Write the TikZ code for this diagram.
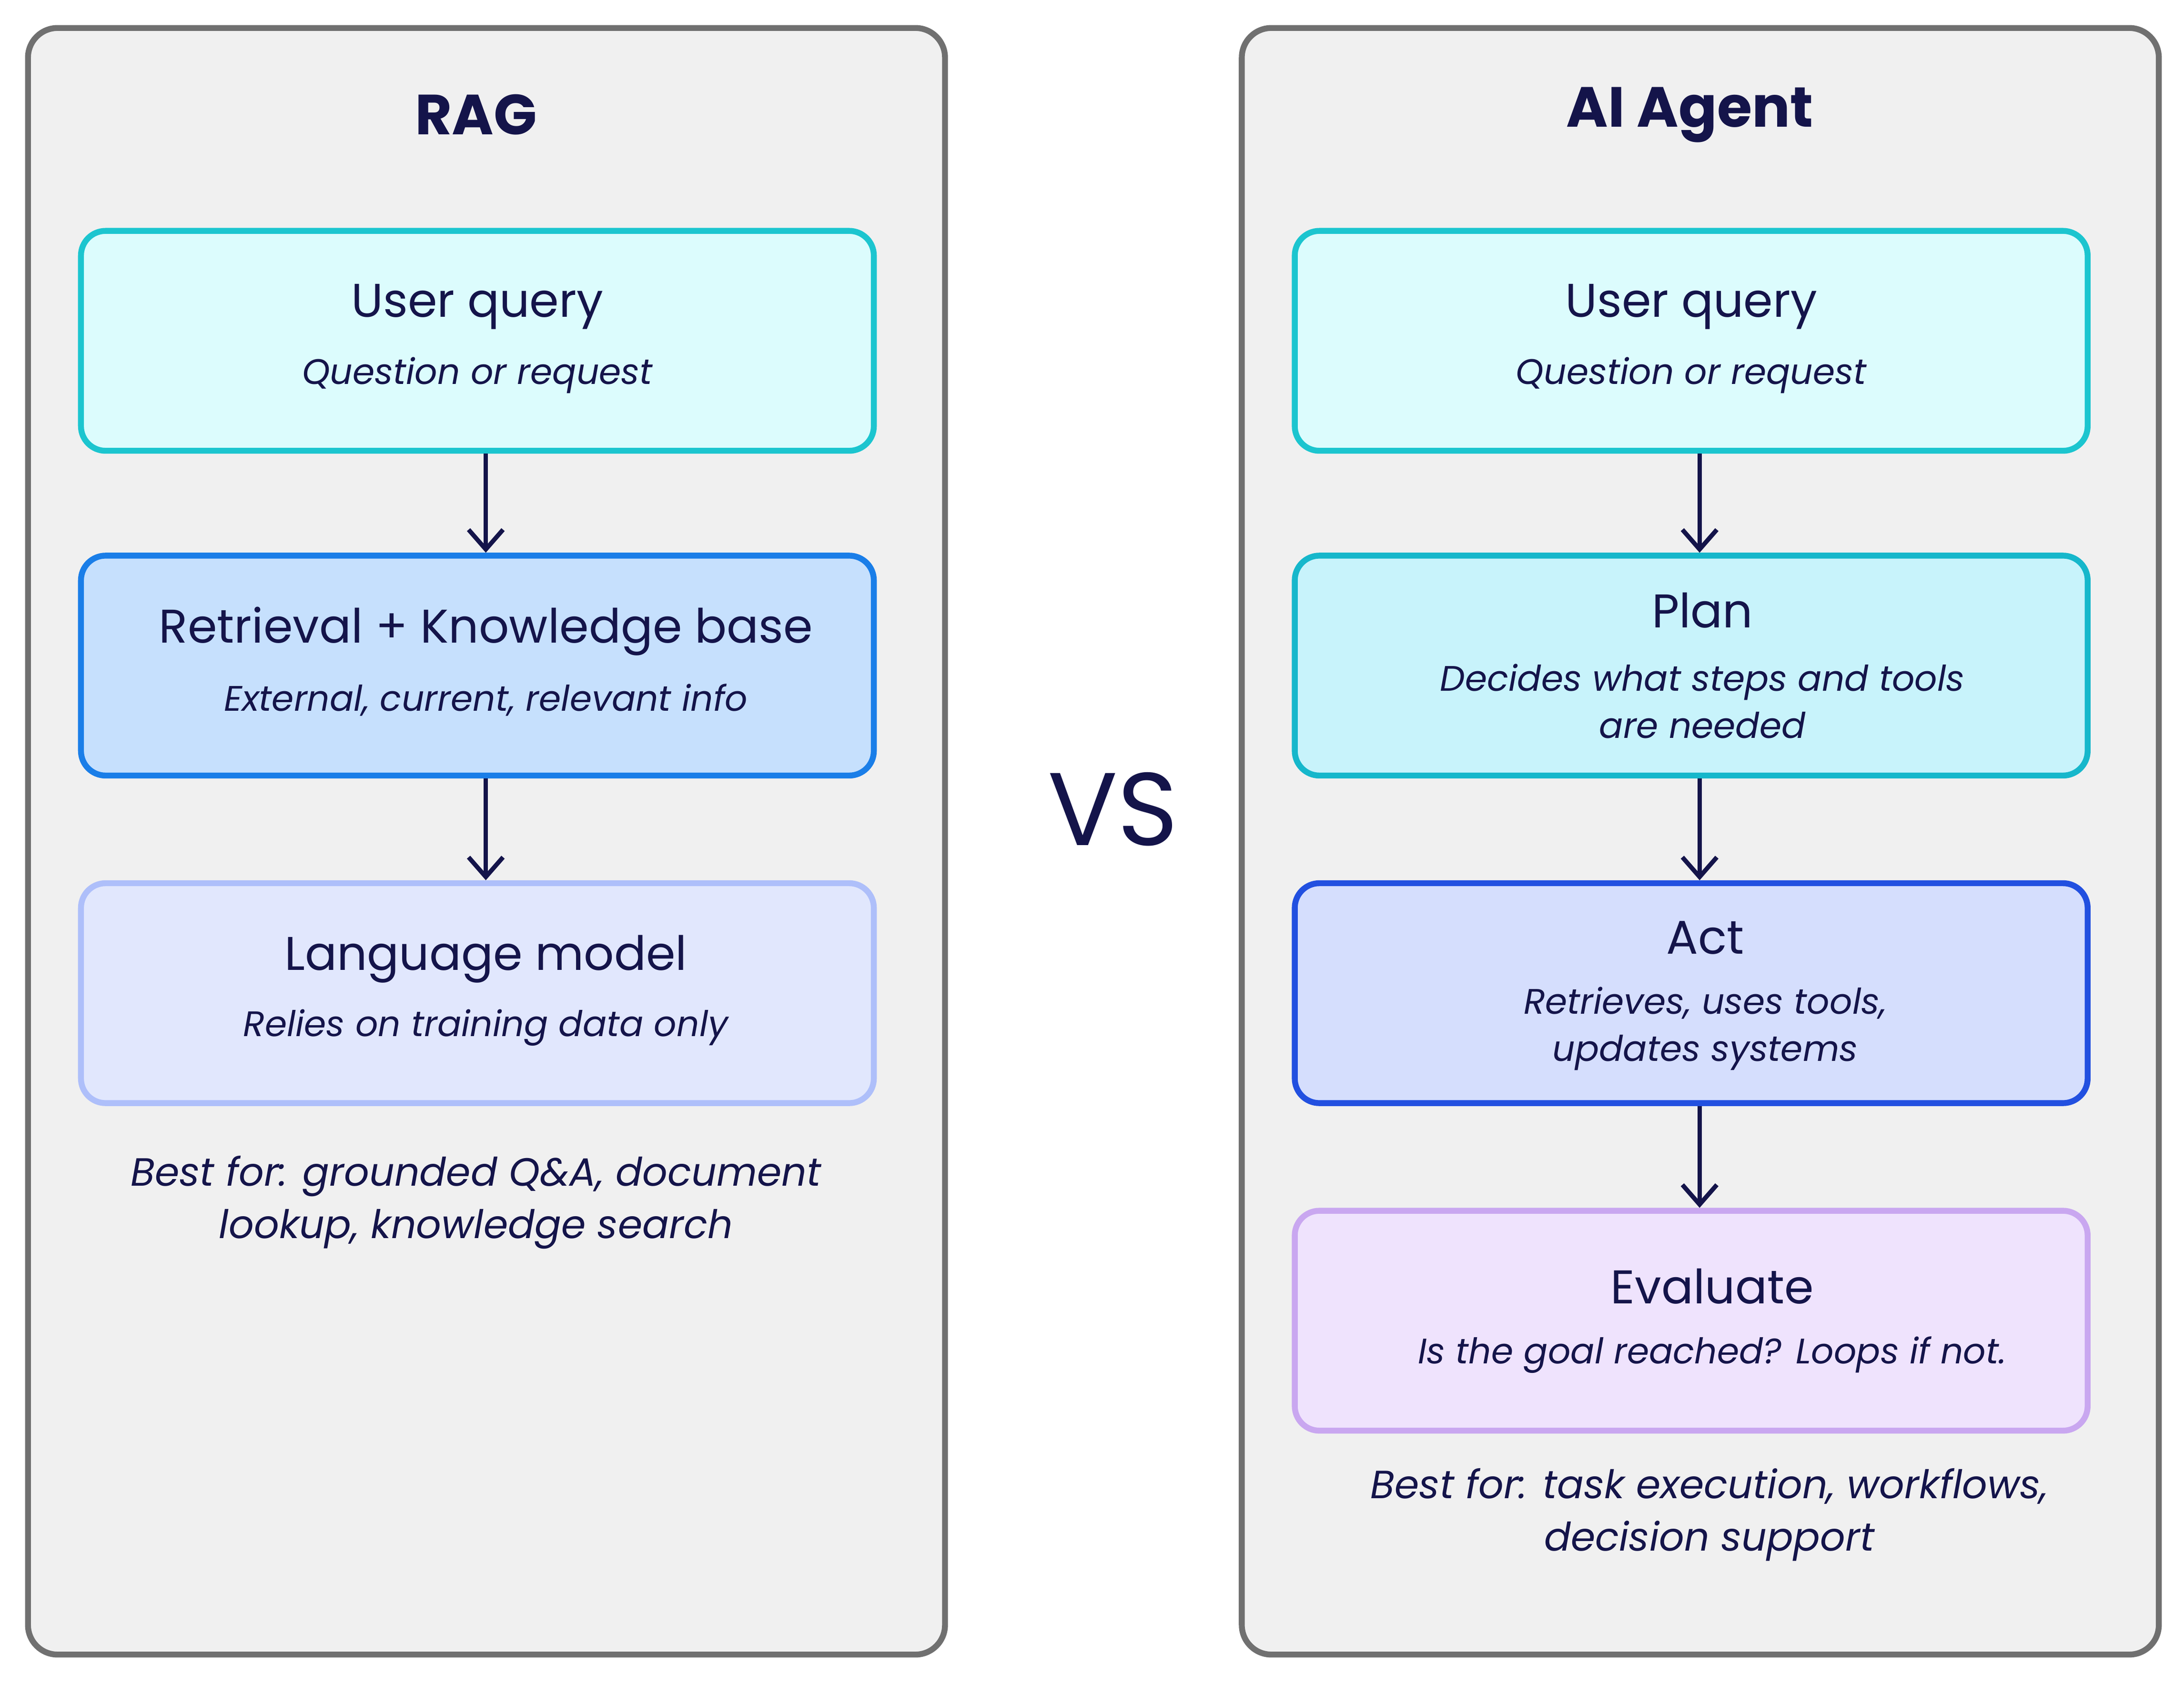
\documentclass[tikz,border=0pt]{standalone}
\usepackage{fontspec}
\setmainfont{Poppins}
\usetikzlibrary{arrows.meta}
\definecolor{ink}{HTML}{14144A}
\definecolor{panelf}{HTML}{F0F0F0}
\definecolor{paneld}{HTML}{707070}
\definecolor{cyD}{HTML}{1CC5CF}\definecolor{cyF}{HTML}{DCFCFD}
\definecolor{blD}{HTML}{1A7EE8}\definecolor{blF}{HTML}{C6E0FD}
\definecolor{lvD}{HTML}{AEBFFA}\definecolor{lvF}{HTML}{E1E7FD}
\definecolor{plD}{HTML}{16B7CB}\definecolor{plF}{HTML}{C8F3FB}
\definecolor{acD}{HTML}{2250E0}\definecolor{acF}{HTML}{D5DEFD}
\definecolor{evD}{HTML}{C9A7F0}\definecolor{evF}{HTML}{EFE3FD}
\tikzset{
 panel/.style={draw=paneld,fill=panelf,line width=1.2pt,rounded corners=6pt},
 box/.style={line width=1.2pt,rounded corners=5pt,minimum width=5.66cm,minimum height=1.57cm,text=ink,align=center,inner sep=0pt},
 ttl/.style={text=ink,font=\fontsize{9.6}{11}\selectfont},
 sub/.style={text=ink,align=center,font=\fontsize{7.2}{9.6}\selectfont\itshape},
 conn/.style={draw=ink,line width=0.9pt,-{Straight Barb[length=4pt,width=7pt]}},
 head/.style={text=ink,font=\fontsize{11.5}{13}\selectfont\bfseries},
 note/.style={text=ink,align=center,font=\fontsize{8}{10.6}\selectfont\itshape}
}
\begin{document}
\begin{tikzpicture}[x=0.01cm,y=-0.01cm]
\useasboundingbox (0,0) rectangle (1560,1210);
\draw[panel] (20,20) rectangle (675,1182);
\draw[panel] (887,20) rectangle (1542,1182);
\node[head] (t1) at (340,82) {RAG};
\node[head] (t2) at (1207,82) {AI Agent};
\node[text=ink,font=\fontsize{21}{24}\selectfont] (vs) at (795,578) {VS};
\node[box,draw=cyD,fill=cyF] (l1) at (341,243.5) {};
\node[box,draw=blD,fill=blF] (l2) at (341,475.5) {};
\node[box,draw=lvD,fill=lvF] (l3) at (341,709.5) {};
\node[box,draw=cyD,fill=cyF] (r1) at (1208,243.5) {};
\node[box,draw=plD,fill=plF] (r2) at (1208,475.5) {};
\node[box,draw=acD,fill=acF] (r3) at (1208,709.5) {};
\node[box,draw=evD,fill=evF] (r4) at (1208,943.5) {};
\node[ttl] (a1) at (341,219) {User query};
\node[sub] (a2) at (341,268) {Question or request};
\node[ttl] (b1) at (347,451) {Retrieval + Knowledge base};
\node[sub] (b2) at (347,500) {External, current, relevant info};
\node[ttl] (c1) at (347,685) {Language model};
\node[sub] (c2) at (347,734) {Relies on training data only};
\node[ttl] (d1) at (1208,219) {User query};
\node[sub] (d2) at (1208,268) {Question or request};
\node[ttl] (e1) at (1216,436) {Plan};
\node[sub] (e2) at (1216,501) {Decides what steps and tools\\are needed};
\node[ttl] (f1) at (1218,670) {Act};
\node[sub] (f2) at (1218,735) {Retrieves, uses tools,\\updates systems};
\node[ttl] (g1) at (1223,919) {Evaluate};
\node[sub] (g2) at (1223,968) {Is the goal reached? Loops if not.};
\node[note] (n1) at (340,859) {Best for: grounded Q\&A, document\\lookup, knowledge search};
\node[note] (n2) at (1221,1082) {Best for: task execution, workflows,\\decision support};
\draw[conn] (l1.south -| 347,0) -- (l2.north -| 347,0);
\draw[conn] (l2.south -| 347,0) -- (l3.north -| 347,0);
\draw[conn] (r1.south -| 1214,0) -- (r2.north -| 1214,0);
\draw[conn] (r2.south -| 1214,0) -- (r3.north -| 1214,0);
\draw[conn] (r3.south -| 1214,0) -- (r4.north -| 1214,0);
\end{tikzpicture}
\end{document}
